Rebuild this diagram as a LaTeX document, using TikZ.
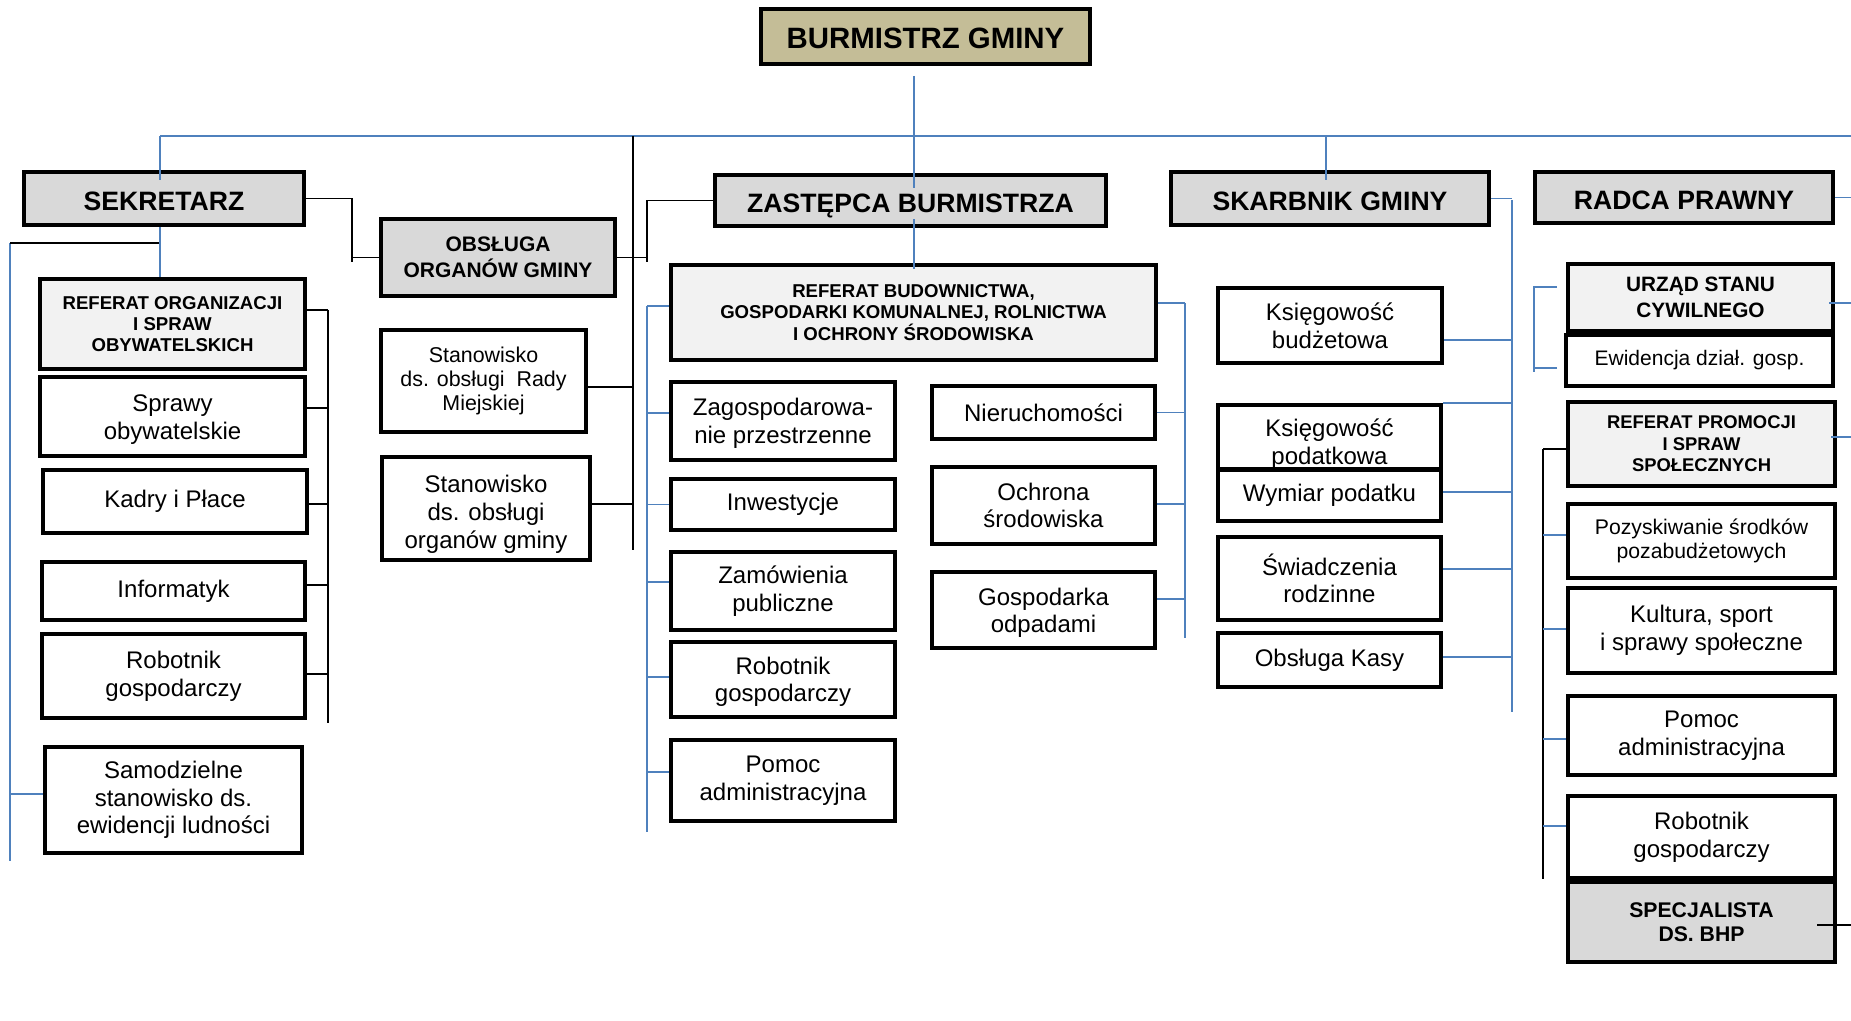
\documentclass[tikz,border=0pt]{standalone}
\usepackage{fontspec}
\setmainfont{Liberation Sans}
\usetikzlibrary{positioning}
\definecolor{lineblue}{HTML}{4F81BD}
\definecolor{chiefkhaki}{HTML}{C4BD97}
\definecolor{headgray}{HTML}{D9D9D9}
\definecolor{refgray}{HTML}{F2F2F2}

\newcommand{\lowtop}[1]{\rule{0pt}{#1}}

\tikzset{
  orgbox/.style={draw=black, line width=2.2pt, fill=white, align=center, inner sep=0pt},
  unit/.style={orgbox, font=\fontsize{12}{13.8}\selectfont},
  head/.style={orgbox, fill=headgray, font=\fontsize{13.3}{15}\selectfont\bfseries,
    text height=12pt, text depth=0pt},
  referat/.style={orgbox, fill=refgray, font=\fontsize{9.3}{10.7}\selectfont\bfseries},
  blueline/.style={draw=lineblue, line width=0.9pt},
  bluethick/.style={draw=lineblue, line width=1.35pt},
  blackline/.style={draw=black, line width=0.75pt},
}

\begin{document}
\begin{tikzpicture}[x=0.5pt,y=-0.5pt]
  \useasboundingbox (0,0) rectangle (1851,1021);

  % bus points
  \coordinate (topL) at (160,136);
  \coordinate (topR) at (1851,136);
  \coordinate (edge) at (1851,0);
  \coordinate (chiefdrop) at (914,76);
  \coordinate (skdrop) at (1326,136);
  \coordinate (leftbus) at (10,243);
  \coordinate (leftbusend) at (10,861);
  \coordinate (orgbus) at (328,310);
  \coordinate (orgbusend) at (328,723);
  \coordinate (sekjoinend) at (352,262);
  \coordinate (zasjoinend) at (647,262);
  \coordinate (stanbus) at (633,136);
  \coordinate (stanbusend) at (633,550);
  \coordinate (budbusL) at (647,306);
  \coordinate (budbusLend) at (647,832);
  \coordinate (budbusR) at (1185,303);
  \coordinate (budbusRend) at (1185,638);
  \coordinate (skbus) at (1512,200);
  \coordinate (skbusend) at (1512,712);
  \coordinate (uscbr) at (1534,287);
  \coordinate (uscbrend) at (1534,372);
  \coordinate (uscbrtick) at (1557,287);
  \coordinate (uscbrtickb) at (1557,368);
  \coordinate (prombus) at (1543,449);
  \coordinate (prombusend) at (1543,879);

  % buses
  \draw[bluethick] (topL) -- (topR);
  \draw[blueline] (chiefdrop) -- (chiefdrop |- 0,173);
  \draw[blackline] (stanbus) -- (stanbusend);
  \draw[blueline] (leftbus) -- (leftbusend);
  \draw[blackline] (leftbus) -- (leftbus -| topL);
  \draw[blackline] (orgbus) -- (orgbusend);
  \draw[blueline] (budbusL) -- (budbusLend);
  \draw[blueline] (budbusR) -- (budbusRend);
  \draw[blueline] (skbus) -- (skbusend);
  \draw[blueline] (uscbrtick) -- (uscbr) -- (uscbrend);
  \draw[blueline] (uscbrtickb) -- (uscbrtickb -| uscbr);
  \draw[blackline] (prombus) -- (prombusend);

  % top level
  \node[head, fill=chiefkhaki, minimum width=164.3pt, minimum height=27.3pt,
    font=\fontsize{14.7}{16}\selectfont\bfseries, text height=12.5pt] (burmistrz) at (925.5,36.5) {BURMISTRZ GMINY};
  \node[head, minimum width=139.8pt, minimum height=26.3pt] (sekretarz) at (164,198.5) {SEKRETARZ};
  \node[orgbox, fill=headgray, minimum width=116.8pt, minimum height=38.3pt,
    font=\fontsize{10.5}{13}\selectfont\bfseries] (obsluga) at (498,257.5) {OBSŁUGA\\ORGANÓW GMINY};
  \node[head, minimum width=195.3pt, minimum height=25.3pt] (zastepca) at (910.5,200.5) {ZASTĘPCA BURMISTRZA};
  \node[head, minimum width=158.8pt, minimum height=26.3pt] (skarbnik) at (1330,198.5) {SKARBNIK GMINY};
  \node[head, minimum width=148.8pt, minimum height=25.3pt] (radca) at (1684,197.5) {RADCA PRAWNY};

  % sekretarz
  \node[referat, minimum width=132.3pt, minimum height=44.8pt] (refOrg) at (172.5,324) {REFERAT ORGANIZACJI\\I SPRAW\\OBYWATELSKICH};
  \node[unit, minimum width=132.3pt, minimum height=39.3pt] (sprawy) at (172.5,416.5) {\lowtop{11.5pt}Sprawy\\obywatelskie};
  \node[unit, minimum width=131.8pt, minimum height=31.3pt] (kadry) at (175,501.5) {Kadry i Płace};
  \node[unit, minimum width=131.3pt, minimum height=28.8pt] (informatyk) at (173.5,591) {Informatyk};
  \node[unit, minimum width=131.3pt, minimum height=41.8pt] (robotnikA) at (173.5,676) {Robotnik\\gospodarczy};
  \node[unit, minimum width=128.3pt, minimum height=52.8pt] (samodz) at (173.5,800) {Samodzielne\\stanowisko ds.\\ewidencji ludności};

  % obsluga organow
  \node[unit, minimum width=102.3pt, minimum height=50.8pt,
    font=\fontsize{10.7}{12}\selectfont] (stanRady) at (483.5,381) {Stanowisko\\ds. obsługi\ \ Rady\\Miejskiej};
  \node[unit, minimum width=103.8pt, minimum height=51.3pt] (stanOrg) at (486,508.5) {\lowtop{14.5pt}Stanowisko\\ds. obsługi\\organów gminy};

  % zastepca
  \node[referat, minimum width=242.3pt, minimum height=47.3pt] (refBud) at (913.5,312.5) {REFERAT BUDOWNICTWA,\\GOSPODARKI KOMUNALNEJ, ROLNICTWA\\I OCHRONY ŚRODOWISKA};
  \node[unit, minimum width=111.8pt, minimum height=38.8pt] (zagosp) at (783,421) {\lowtop{11pt}Zagospodarowa-\\nie przestrzenne};
  \node[unit, minimum width=111.8pt, minimum height=25.3pt] (inwest) at (783,504.5) {Inwestycje};
  \node[unit, minimum width=111.8pt, minimum height=38.8pt] (zamow) at (783,591) {Zamówienia\\publiczne};
  \node[unit, minimum width=111.8pt, minimum height=37.3pt] (robotnikB) at (783,679.5) {\lowtop{11pt}Robotnik\\gospodarczy};
  \node[unit, minimum width=111.8pt, minimum height=40.3pt] (pomocA) at (783,780.5) {Pomoc\\administracyjna};
  \node[unit, minimum width=111.3pt, minimum height=26.3pt] (nieruch) at (1043.5,412.5) {Nieruchomości};
  \node[unit, minimum width=111.3pt, minimum height=38.3pt] (ochrona) at (1043.5,505.5) {Ochrona\\środowiska};
  \node[unit, minimum width=111.3pt, minimum height=37.8pt] (gospOdp) at (1043.5,610) {\lowtop{11.5pt}Gospodarka\\odpadami};

  % skarbnik
  \node[unit, minimum width=111.8pt, minimum height=37.3pt] (ksBudz) at (1330,325.5) {Księgowość\\budżetowa};
  \node[unit, minimum width=111.3pt, minimum height=32.3pt] (ksPod) at (1329.5,437) {\lowtop{16pt}Księgowość\\podatkowa};
  \node[unit, minimum width=111.3pt, minimum height=25.3pt] (wymiar) at (1329.5,495.5) {Wymiar podatku};
  \node[unit, minimum width=111.3pt, minimum height=41.3pt] (swiadcz) at (1329.5,578.5) {Świadczenia\\rodzinne};
  \node[unit, minimum width=111.3pt, minimum height=26.8pt] (kasa) at (1329.5,660) {Obsługa Kasy};

  % radca
  \node[referat, minimum width=132.3pt, minimum height=33.3pt,
    font=\fontsize{10.4}{12.8}\selectfont\bfseries] (usc) at (1700.5,297.5) {URZĄD STANU\\CYWILNEGO};
  \node[unit, minimum width=133.3pt, minimum height=25.3pt,
    font=\fontsize{10.5}{12}\selectfont] (ewid) at (1699.5,360.5) {Ewidencja dział. gosp.};
  \node[referat, minimum width=133.3pt, minimum height=41.8pt,
    font=\fontsize{9.2}{10.8}\selectfont\bfseries] (refProm) at (1701.5,444) {REFERAT PROMOCJI\\I SPRAW\\SPOŁECZNYCH};
  \node[unit, minimum width=133.3pt, minimum height=36.8pt,
    font=\fontsize{10.6}{12.3}\selectfont] (pozysk) at (1701.5,541) {Pozyskiwanie środków\\pozabudżetowych};
  \node[unit, minimum width=133.3pt, minimum height=42.3pt] (kultura) at (1701.5,630.5) {Kultura, sport\\i sprawy społeczne};
  \node[unit, minimum width=133.3pt, minimum height=39.3pt] (pomocB) at (1701.5,735.5) {Pomoc\\administracyjna};
  \node[unit, minimum width=133.3pt, minimum height=40.8pt] (robotnikC) at (1701.5,837) {Robotnik\\gospodarczy};
  \node[orgbox, fill=headgray, minimum width=133.3pt, minimum height=39.8pt,
    font=\fontsize{10.6}{11.9}\selectfont\bfseries] (bhp) at (1701.5,922) {SPECJALISTA\\DS. BHP};

  % links
  \draw[blueline] (topL) -- ([yshift=-5pt]topL |- sekretarz.north);
  \draw[blueline] (topL |- sekretarz.south) -- (topL |- refOrg.north);
  \draw[blueline] (skdrop) -- ([yshift=-5pt]skdrop |- skarbnik.north);
  \draw[blueline] (chiefdrop |- zastepca.north) -- ++(0,15);
  \draw[blueline] (chiefdrop |- zastepca.south) -- ++(0,-9);
  \draw[blueline] (chiefdrop |- zastepca.south) -- ([yshift=-3pt]chiefdrop |- refBud.north);

  \draw[blackline] (sekretarz.east) -| (sekjoinend);
  \draw[blackline] (obsluga.west) -- (obsluga.west -| sekjoinend);
  \draw[blackline] (zastepca.west) -| (zasjoinend);
  \draw[blackline] (obsluga.east) -- (obsluga.east -| zasjoinend);

  \foreach \n/\s in {refOrg/7, sprawy/4.25, kadry/-1.25, informatyk/3, robotnikA/1}
    \draw[blackline] ([yshift=\s pt]\n.east) -- ([yshift=\s pt]\n.east -| orgbus);
  \draw[blueline] ([yshift=3pt]samodz.west) -- ([yshift=3pt]samodz.west -| leftbus);
  \foreach \n/\s in {stanRady/-3, stanOrg/2.25}
    \draw[blackline] ([yshift=\s pt]\n.east) -- ([yshift=\s pt]\n.east -| stanbus);

  \foreach \n/\s in {refBud/3.25, zagosp/4, inwest/0, zamow/4.5, robotnikB/1.25, pomocA/4.25}
    \draw[blueline] ([yshift=\s pt]\n.west) -- ([yshift=\s pt]\n.west -| budbusL);
  \foreach \n/\s in {refBud/4.75, nieruch/0, ochrona/0.75, gospOdp/5.5}
    \draw[blueline] ([yshift=\s pt]\n.east) -- ([yshift=\s pt]\n.east -| budbusR);

  \draw[blueline] (skarbnik.east) -- (skarbnik.east -| skbus);
  \foreach \n/\s in {ksBudz/-7.25, ksPod/17, wymiar/1.75, swiadcz/4.75, kasa/1.5}
    \draw[blueline] ([yshift=\s pt]\n.east) -- ([yshift=\s pt]\n.east -| skbus);

  \draw[blueline] (radca.east) -- (radca.east -| edge);
  \draw[blueline] ([xshift=-3pt,yshift=-2.75pt]usc.east) -- ([yshift=-2.75pt]usc.east -| edge);
  \draw[blueline] ([xshift=-3pt,yshift=3.5pt]refProm.east) -- ([yshift=3.5pt]refProm.east -| edge);
  \draw[blackline] ([xshift=-10pt,yshift=-1.5pt]bhp.east) -- ([yshift=-1.5pt]bhp.east -| edge);
  \draw[blackline] ([yshift=-2.5pt]refProm.west) -- ([yshift=-2.5pt]refProm.west -| prombus);
  \foreach \n/\s in {pozysk/3, kultura/0.75, pomocB/-1.75, robotnikC/5.5}
    \draw[blueline] ([yshift=\s pt]\n.west) -- ([yshift=\s pt]\n.west -| prombus);
\end{tikzpicture}
\end{document}
